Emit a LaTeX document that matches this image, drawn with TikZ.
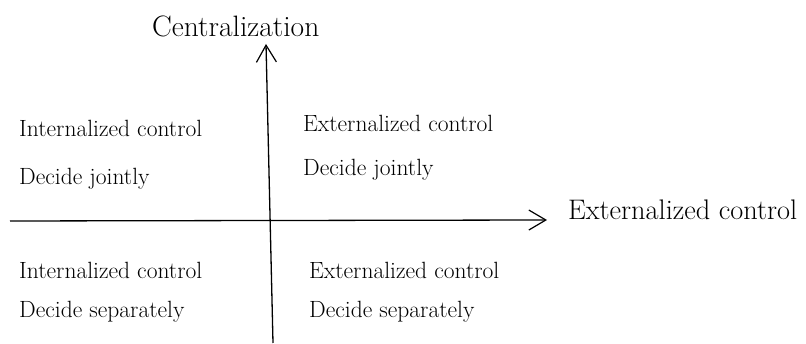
\documentclass[tikz,border=0pt]{standalone}
\usetikzlibrary{arrows.meta}
\tikzset{
  axisline/.style={line width=1.3pt, -{Straight Barb[length=17pt,width=20pt,line width=1.2pt]}},
  cell/.style={anchor=base west, inner sep=0pt, font=\fontsize{23.5}{28}\selectfont},
  axislabel/.style={anchor=base west, inner sep=0pt, font=\fontsize{29.5}{35}\selectfont},
  xaxislabel/.style={axislabel, font=\fontsize{28.3}{34}\selectfont}
}
\begin{document}
\begin{tikzpicture}[x=1pt,y=1pt]
\useasboundingbox (0,0) rectangle (806,344);
\coordinate (hstart) at (10,123);
\coordinate (hend) at (547,124);
\coordinate (vstart) at (273,1);
\coordinate (vend) at (266,300);
\draw[axisline] (hstart) -- (hend);
\draw[axisline] (vstart) -- (vend);
\node[axislabel] (ylab) at (152,307) {Centralization};
\node[xaxislabel] (xlab) at (568,124) {Externalized control};
\node[cell] (tl1) at (19,207) {Internalized control};
\node[cell] (tl2) at (19,159) {Decide jointly};
\node[cell] (tr1) at (303,212) {Externalized control};
\node[cell] (tr2) at (303,168) {Decide jointly};
\node[cell] (bl1) at (19,65) {Internalized control};
\node[cell] (bl2) at (19,26) {Decide separately};
\node[cell] (br1) at (309,65) {Externalized control};
\node[cell] (br2) at (309,26) {Decide separately};
\end{tikzpicture}
\end{document}
